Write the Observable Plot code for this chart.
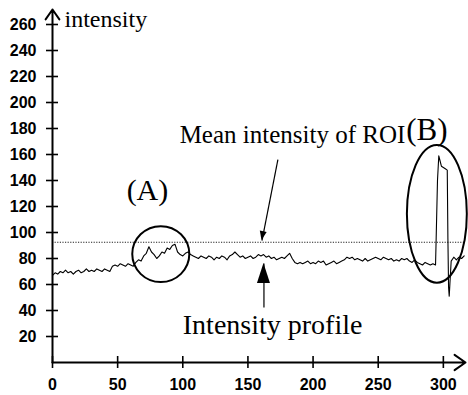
<!DOCTYPE html>
<html><head><meta charset="utf-8">
<script src="https://cdn.jsdelivr.net/npm/d3@7"></script>
<script src="https://cdn.jsdelivr.net/npm/@observablehq/plot@0.6"></script>
<style>body{margin:0;background:#fff}</style>
</head><body><div id="chart"></div>
<script>
// pixel position along the line profile
const position = [0,2,4,6,8,10,12,14,16,18,20,22,24,26,28,30,32,34,36,38,40,42,44,46,48,50,52,54,56,58,60,62,64,66,68,70,72,74,76,78,80,82,84,86,88,90,92,94,96,98,100,102,104,106,108,110,112,114,116,118,120,122,124,126,128,130,132,134,136,138,140,142,144,146,148,150,152,154,156,158,160,162,164,166,168,170,172,174,176,178,180,182,184,186,188,190,192,194,196,198,200,202,204,206,208,210,212,214,216,218,220,222,224,226,228,230,232,234,236,238,240,242,244,246,248,250,252,254,256,258,260,262,264,266,268,270,272,274,276,278,280,282,284,286,288,290,292,294,294.5,295.5,296.5,297.5,298.5,300,301.5,303,303.5,304,304.5,305,306,308,310,312,314,316];
// intensity profile values
const intensity = [67,69,68,70,69,71,69,70,68,70,71,69,70,72,70,71,70,72,71,70,72,71,70,74,75,74,76,75,74,76,75,74,77,79,78,82,84,89,85,83,80,82,85,84,88,87,90,91,85,83,82,84,85,83,82,81,80,82,81,80,82,81,79,81,80,82,81,79,82,83,85,83,81,82,80,81,82,80,81,83,82,83,81,82,80,81,79,80,81,80,82,84,80,77,76,77,76,77,78,76,77,76,78,77,78,75,76,77,78,76,77,78,79,81,80,81,79,80,79,78,80,78,79,80,81,80,79,81,80,79,80,78,79,78,80,79,80,78,77,79,77,76,75,77,76,75,76,75,96,140,159,155,151,150,149,148,95,58,51,60,78,81,79,81,80,82];
const meanIntensity = 92.5;
const yTicks = [20,40,60,80,100,120,140,160,180,200,220,240,260];
const xTicks = [0,50,100,150,200,250,300];

const profile = position.map((x, i) => ({x, v: intensity[i]}));

const serif = "'Liberation Serif','Times New Roman',serif";
const startLabels = [
  {text: "intensity", x: 9.2, y: 257.7, size: 24},
  {text: "(B)", x: 271.5, y: 171.5, size: 31},
  {text: "(A)", x: 56.9, y: 125, size: 30},
  {text: "Intensity profile", x: 100, y: 22.3, size: 28}
];
const endLabels = [
  {text: "Mean intensity of ROI", x: 270.8, y: 168.5, size: 25}
];
const ellipses = [
  {cx: 83.5, cy: 83, rx: 21.9, ry: 21.5},
  {cx: 295.4, cy: 114, rx: 23, ry: 53}
];
const pointers = [
  {x1: 173, y1: 156, x2: 160.8, y2: 93.8, head: 9, half: 3.5},
  {x1: 162.3, y1: 42.3, x2: 162.3, y2: 76.2, head: 20, half: 6.5}
];

function ellipseMark(data) {
  return (index, scales) => {
    const g = d3.create("svg:g");
    for (const e of data) {
      const cx = scales.x(e.cx), cy = scales.y(e.cy);
      const rx = Math.abs(scales.x(e.cx + e.rx) - cx), ry = Math.abs(scales.y(e.cy + e.ry) - cy);
      g.append("ellipse").attr("cx", cx).attr("cy", cy).attr("rx", rx).attr("ry", ry)
        .attr("fill", "none").attr("stroke", "#000").attr("stroke-width", 2);
    }
    return g.node();
  };
}
function headMark(data) {
  return (index, scales) => {
    const g = d3.create("svg:g");
    for (const p of data) {
      const ax = scales.x(p.x1), ay = scales.y(p.y1), bx = scales.x(p.x2), by = scales.y(p.y2);
      const L = Math.hypot(bx - ax, by - ay), ux = (bx - ax) / L, uy = (by - ay) / L;
      const px = bx - ux * p.head, py = by - uy * p.head;
      const pts = [[bx, by], [px - uy * p.half, py + ux * p.half], [px + uy * p.half, py - ux * p.half]];
      g.append("polygon").attr("points", pts.map(q => q.join(",")).join(" ")).attr("fill", "#000");
    }
    return g.node();
  };
}

const chart = Plot.plot({
  width: 468, height: 395,
  marginLeft: 52, marginRight: 3, marginTop: 11, marginBottom: 33,
  x: {domain: [0, 317]},
  y: {domain: [0, 270]},
  style: {background: "#fff", color: "#000"},
  marks: [
    Plot.ruleY([meanIntensity], {x1: 0, x2: 317, stroke: "#222", strokeWidth: 1, strokeDasharray: "1.2,1.4"}),
    Plot.line(profile, {x: "x", y: "v", stroke: "#000", strokeWidth: 1.1}),
    ellipseMark(ellipses),
    Plot.link(pointers, {x1: "x1", y1: "y1", x2: "x2", y2: "y2", stroke: "#000", strokeWidth: 1.2}),
    headMark(pointers),
    Plot.arrow([0], {x1: 0, y1: 0, x2: 0, y2: 271.5, stroke: "#000", strokeWidth: 2, headLength: 9, headAngle: 70}),
    Plot.arrow([0], {x1: 0, y1: 0, x2: 317, y2: 0, stroke: "#000", strokeWidth: 2, headLength: 10, headAngle: 70}),
    Plot.axisY(yTicks, {tickSize: 12, dx: 6, tickPadding: 10, strokeWidth: 1.6, label: null,
      fontFamily: "'Liberation Sans',Arial,sans-serif", fontWeight: "bold", fontSize: 16}),
    Plot.axisX(xTicks, {tickSize: 12, dy: -6, tickPadding: 10, strokeWidth: 1.6, label: null,
      fontFamily: "'Liberation Sans',Arial,sans-serif", fontWeight: "bold", fontSize: 16}),
    Plot.text(startLabels, {x: "x", y: "y", text: "text", fontSize: d => d.size, textAnchor: "start",
      lineAnchor: "bottom", fontFamily: serif, fill: "#000"}),
    Plot.text(endLabels, {x: "x", y: "y", text: "text", fontSize: d => d.size, textAnchor: "end",
      lineAnchor: "bottom", fontFamily: serif, fill: "#000"})
  ]
});
document.getElementById("chart").append(chart);
</script>
</body></html>
